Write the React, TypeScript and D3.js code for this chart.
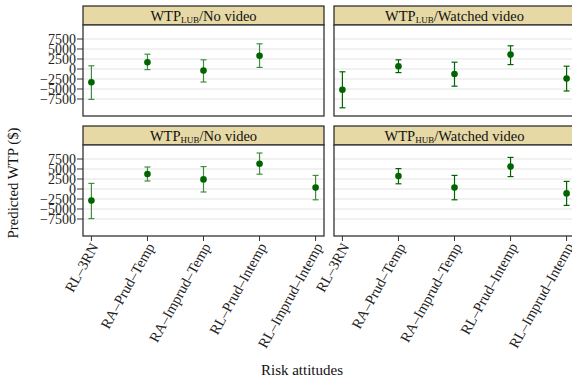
import React from "react";
import * as d3 from "d3";

const categories = ["RL–3RN", "RA–Prud–Temp", "RA–Imprud–Temp", "RL–Prud–Intemp", "RL–Imprud–Intemp"];
const yTicks = [-7500, -5000, -2500, 0, 2500, 5000, 7500];

// LUB / No video
const lubNoEst = [-3300, 1700, -400, 3300, null];
const lubNoLo = [-7600, -150, -3250, 400, null];
const lubNoHi = [800, 3700, 2300, 6300, null];
// LUB / Watched video
const lubWEst = [-5200, 700, -1250, 3600, -2400];
const lubWLo = [-9700, -900, -4300, 1100, -5500];
const lubWHi = [-700, 2300, 1700, 5800, 700];
// HUB / No video
const hubNoEst = [-2900, 3750, 2400, 6300, 350];
const hubNoLo = [-7400, 2000, -750, 3700, -2700];
const hubNoHi = [1400, 5500, 5600, 9000, 3400];
// HUB / Watched video
const hubWEst = [null, 3250, 350, 5600, -1100];
const hubWLo = [null, 1300, -2700, 3100, -4100];
const hubWHi = [null, 5100, 3400, 7900, 1900];

const panels = [
  { sub: "LUB", title: "/No video", row: 0, col: 0, est: lubNoEst, lo: lubNoLo, hi: lubNoHi },
  { sub: "LUB", title: "/Watched video", row: 0, col: 1, est: lubWEst, lo: lubWLo, hi: lubWHi },
  { sub: "HUB", title: "/No video", row: 1, col: 0, est: hubNoEst, lo: hubNoLo, hi: hubNoHi },
  { sub: "HUB", title: "/Watched video", row: 1, col: 1, est: hubWEst, lo: hubWLo, hi: hubWHi },
];

const W = 572, H = 383;
const colX = [83, 334];
const rowY = [6, 126];
const panelW = 241;
const stripH = 19;
const plotH = 91;
const font = "Liberation Serif, Times New Roman, DejaVu Serif, serif";
const ts = { fontFamily: font };

export default function App() {
  const x = d3.scalePoint<string>().domain(categories).range([0, panelW]).padding(0.15);
  const y = d3.scaleLinear().domain([-11750, 11000]).range([plotH, 0]);
  const fmt = (v: number) => (v < 0 ? "\u2212" + Math.abs(v) : String(v));

  return (
    <svg width={W} height={H} style={{ position: "absolute", left: 0, top: 0, background: "#fff", fontFamily: font }}>
      {panels.map((p, pi) => {
        const px = colX[p.col];
        const py = rowY[p.row] + stripH;
        const barColor = p.col === 0 ? "#3e8e3e" : "#006400";
        return (
          <g key={pi}>
            <rect x={px} y={rowY[p.row]} width={panelW} height={stripH} fill="#e6d9a6" stroke="#222" strokeWidth={1.2} />
            <text x={px + panelW / 2} y={rowY[p.row] + 14.5} textAnchor="middle" style={ts} fontSize={14.5} fill="#111">
              WTP<tspan fontSize={9} dy={2}>{p.sub}</tspan>
              <tspan dy={-2}>{p.title}</tspan>
            </text>
            <g transform={`translate(${px},${py})`}>
              <rect x={0} y={0} width={panelW} height={plotH} fill="#fff" />
              {yTicks.map((t) => (
                <line key={t} x1={0} x2={panelW} y1={y(t)} y2={y(t)} stroke="#e3e3e3" strokeWidth={1.2} />
              ))}
              {categories.map((c, i) => {
                const e = p.est[i];
                const lo = p.lo[i];
                const hi = p.hi[i];
                if (e == null || lo == null || hi == null) return null;
                const cx = x(c)!;
                return (
                  <g key={c}>
                    <line x1={cx} x2={cx} y1={y(hi)} y2={y(lo)} stroke={barColor} strokeWidth={1.2} />
                    <line x1={cx - 3} x2={cx + 3} y1={y(hi)} y2={y(hi)} stroke={barColor} strokeWidth={1.2} />
                    <line x1={cx - 3} x2={cx + 3} y1={y(lo)} y2={y(lo)} stroke={barColor} strokeWidth={1.2} />
                    <circle cx={cx} cy={y(e)} r={3.3} fill="#006400" />
                  </g>
                );
              })}
              <rect x={0} y={0} width={panelW} height={plotH} fill="none" stroke="#333" strokeWidth={1.3} />
              {p.col === 0 &&
                yTicks.map((t) => (
                  <g key={t}>
                    <line x1={-6} x2={0} y1={y(t)} y2={y(t)} stroke="#333" strokeWidth={1} />
                    <text x={-7} y={y(t)} dy="0.34em" textAnchor="end" style={ts} fontSize={14} fill="#222">
                      {fmt(t)}
                    </text>
                  </g>
                ))}
              {p.row === 1 &&
                categories.map((c) => (
                  <g key={c}>
                    <line x1={x(c)!} x2={x(c)!} y1={plotH} y2={plotH + 5} stroke="#333" strokeWidth={1} />
                    <text
                      transform={`translate(${x(c)! + 3},${plotH + 8}) rotate(-61)`}
                      textAnchor="end"
                      dy="0.35em"
                      style={ts}
                      fontSize={14.6}
                      fill="#222"
                    >
                      {c}
                    </text>
                  </g>
                ))}
            </g>
          </g>
        );
      })}
      <text transform={`translate(18,183) rotate(-90)`} textAnchor="middle" style={ts} fontSize={14.8} fill="#111">
        Predicted WTP ($)
      </text>
      <text x={302} y={375} textAnchor="middle" style={ts} fontSize={15} fill="#111">
        Risk attitudes
      </text>
    </svg>
  );
}
